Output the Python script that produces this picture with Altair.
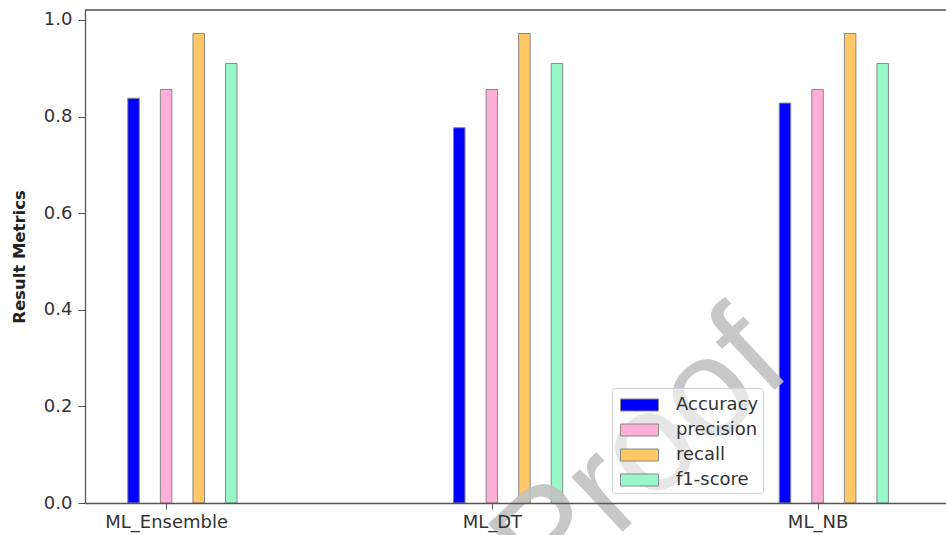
import altair as alt
import pandas as pd

models = ["ML_Ensemble", "ML_DT", "ML_NB"]
metrics = ["Accuracy", "precision", "recall", "f1-score"]
accuracy = [0.838, 0.777, 0.828]
precision = [0.856, 0.856, 0.856]
recall = [0.972, 0.972, 0.972]
f1_score = [0.910, 0.910, 0.910]
colors = ["#0000ff", "#ffafd7", "#ffc766", "#99f8c9"]

series = [accuracy, precision, recall, f1_score]
rows = []
for gi, model in enumerate(models):
    for mi, metric in enumerate(metrics):
        rows.append({"model": model, "gi": gi, "mi": mi, "metric": metric,
                     "value": series[mi][gi]})
df = pd.DataFrame(rows)

W, H = 861, 493
font = "DejaVu Sans"

label_expr = "datum.value == 0 ? 'ML_Ensemble' : datum.value == 1 ? 'ML_DT' : datum.value == 2 ? 'ML_NB' : ''"

xscale = alt.Scale(domain=[-0.2337, 2.379], nice=False, zero=False)
yscale = alt.Scale(domain=[0, 1.0207], nice=False)

bars = alt.Chart(df).transform_calculate(
    xpos="datum.gi + (datum.mi - 1) * 0.1"
).mark_bar(size=11.5, stroke="#888888", strokeWidth=1).encode(
    x=alt.X("xpos:Q", scale=xscale,
            axis=alt.Axis(values=[0, 1, 2], labelExpr=label_expr, title=None,
                          grid=False, tickSize=6, labelPadding=4,
                          labelFontSize=18, labelFont=font, labelColor="#333333",
                          domainColor="#555555", tickColor="#555555",
                          domainWidth=1.3, labelFlush=False, zindex=1)),
    y=alt.Y("value:Q", scale=yscale,
            axis=alt.Axis(values=[0, 0.2, 0.4, 0.6, 0.8, 1.0], format=".1f",
                          title="Result Metrics", grid=False, tickSize=7,
                          labelPadding=6, labelFontSize=18, labelFont=font,
                          labelColor="#333333", titleFont=font, titleFontSize=16.5,
                          titleFontWeight="bold", titleColor="#222222",
                          titlePadding=16, domainColor="#555555",
                          tickColor="#555555", domainWidth=1.3)),
    color=alt.Color("metric:N", scale=alt.Scale(domain=metrics, range=colors),
                    legend=alt.Legend(
                        title=None, orient="none", legendX=527, legendY=378,
                        symbolType="M-1.52,-0.48L1.52,-0.48L1.52,0.48L-1.52,0.48Z",
                        symbolSize=625, symbolStrokeColor="#888888",
                        symbolStrokeWidth=1, symbolOffset=10.5, labelOffset=23.5,
                        labelFontSize=18, labelFont=font, labelColor="#333333",
                        padding=4, rowPadding=3, strokeColor="#d0d0d0",
                        fillColor="rgba(255,255,255,0.55)", cornerRadius=3)),
)

top_line = alt.Chart(pd.DataFrame({"y": [1.0207]})).mark_rule(
    color="#555555", strokeWidth=1.3
).encode(y=alt.Y("y:Q", scale=yscale), x=alt.value(0), x2=alt.value(W))

watermark = alt.Chart(pd.DataFrame({"t": ["Proof"]})).mark_text(
    font="Liberation Sans", fontSize=142, angle=317, color="#c2c2c2",
    opacity=0.9, align="center", baseline="middle"
).encode(text="t:N", x=alt.value(556), y=alt.value(446))

chart = alt.layer(bars, top_line, watermark).properties(
    width=W, height=H,
    padding={"left": 85, "top": 10, "right": 0, "bottom": 32},
    autosize=alt.AutoSizeParams(type="none"),
).configure_view(stroke=None).configure(background="white")

chart.save("out.html", embed_options={"renderer": "svg", "actions": False})
